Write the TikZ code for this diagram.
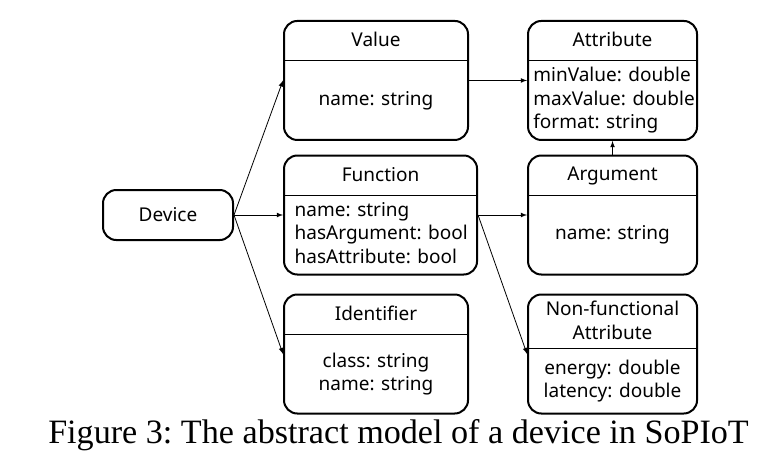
\documentclass[tikz,border=0pt]{standalone}
\usepackage{fontspec}
\setmainfont{Noto Sans}
\newfontfamily\captionfont{Liberation Serif}
\usepackage{tikz}
\usetikzlibrary{shapes.multipart, arrows}

% parts of a class box: width, height, (inset,) text
\newcommand{\parth}[3]{\parbox[c][#2]{#1}{\centering\rule[-2pt]{0pt}{12pt}#3\rule[-2pt]{0pt}{12pt}}}
\newcommand{\partc}[3]{\parbox[c][#2]{#1}{\centering\strut #3\strut}}
\newcommand{\partl}[4]{\parbox[c][#2]{#1}{\raggedright\leftskip=#3 \strut #4\strut}}

\begin{document}
\begin{tikzpicture}
    [
		x=0.75pt, y=-0.75pt,
		font=\fontsize{14.25}{17.5}\selectfont,
		cls/.style={
			draw, line width=1.5pt, rounded corners=10pt,
			rectangle split, rectangle split parts=2,
			rectangle split draw splits=false, inner sep=0pt
		},
		ent/.style={
			draw, line width=1.5pt, rounded corners=10pt,
			minimum width=97.5pt, minimum height=37.5pt
		},
		link/.style={-latex, line width=0.6pt},
		split/.style={line width=0.75pt}
	]

\useasboundingbox (0,0) rectangle (773,461);

% Nodes
\node (dev) [ent] at (168,215) {Device};
\node (fun) [cls, node distance=159.4pt, right of=dev]
	{\parth{144.75pt}{28.5pt}{Function}
	\nodepart{two}\partl{144.75pt}{57.75pt}{8pt}{name: string\\hasArgument: bool\\hasAttribute: bool}};
\node (val) [cls, node distance=100.9pt, above of=fun, xshift=-3.4pt]
	{\parth{138pt}{28.5pt}{Value}
	\nodepart{two}\partc{138pt}{57.75pt}{name: string}};
\node (idf) [cls, node distance=104.25pt, below of=fun, xshift=-3.4pt]
	{\parth{138pt}{28.5pt}{Identifier}
	\nodepart{two}\partc{138pt}{57.75pt}{class: string\\name: string}};
\node (arg) [cls, node distance=174pt, right of=fun]
	{\parth{126.75pt}{28.5pt}{Argument}
	\nodepart{two}\partc{126.75pt}{57.75pt}{name: string}};
\node (attr) [cls, node distance=100.9pt, above of=arg]
	{\parth{126.75pt}{28.5pt}{Attribute}
	\nodepart{two}\partl{126.75pt}{57.75pt}{4pt}{minValue: double\\maxValue: double\\format: string}};
\node (nfa) [cls, node distance=104.25pt, below of=arg]
	{\parth{126.75pt}{39pt}{Non-functional\\Attribute}
	\nodepart{two}\partc{126.75pt}{47.25pt}{energy: double\\latency: double}};

\node (cap) [anchor=base, font=\captionfont\fontsize{25.6}{30}\selectfont\frenchspacing] at (398.5,443)
	{Figure 3: The abstract model of a device in SoPIoT};

% Splits
\draw [split] (val.text split west) -- (val.text split east);
\draw [split] (fun.text split west) -- (fun.text split east);
\draw [split] (idf.text split west) -- (idf.text split east);
\draw [split] (attr.text split west) -- (attr.text split east);
\draw [split] (arg.text split west) -- (arg.text split east);
\draw [split] (nfa.text split west) -- (nfa.text split east);

% Links
\draw [link] (dev.east) -- (val.west);
\draw [link] (dev.east) -- (fun.west);
\draw [link] (dev.east) -- (idf.west);
\draw [link] (val.east) -- (attr.west);
\draw [link] (arg.north) -- (attr.south);
\draw [link] (fun.east) -- (arg.west);
\draw [link] (fun.east) -- (nfa.west);

\end{tikzpicture}
\end{document}
